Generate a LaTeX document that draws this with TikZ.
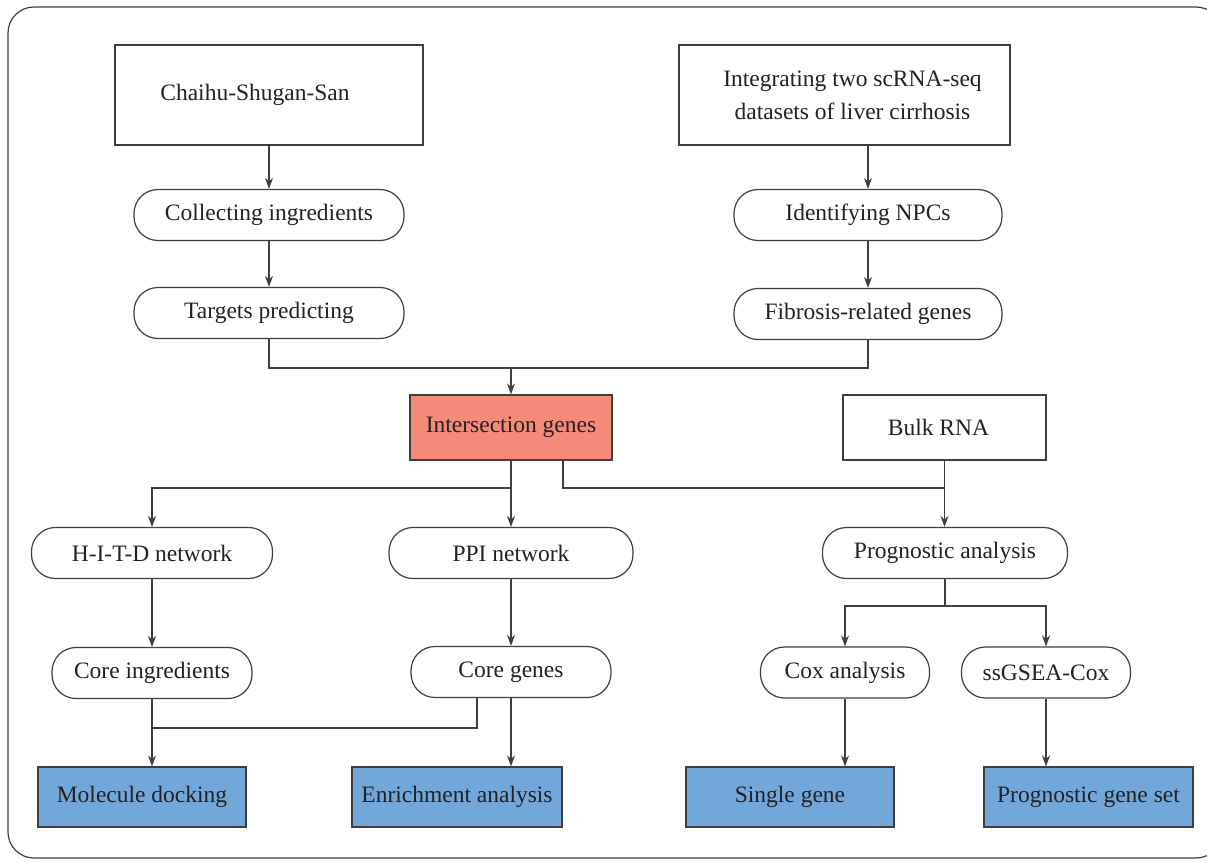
\documentclass[tikz,border=0pt]{standalone}
\usepackage{fontspec}
\setmainfont{Liberation Serif}
\usetikzlibrary{arrows.meta}
\definecolor{linec}{HTML}{3F3F3F}
\definecolor{txtc}{HTML}{222222}
\definecolor{salmon}{HTML}{F58A78}
\definecolor{bluef}{HTML}{72A7DA}
\begin{document}
\begin{tikzpicture}[x=1pt,y=-1pt,
  every node/.style={font=\fontsize{23.5}{33}\selectfont, text=txtc, inner sep=0pt, align=center},
  rectbox/.style={draw=linec, line width=1.2pt, fill=white},
  pill/.style={draw=linec, line width=1.2pt, fill=white, rounded corners=24pt, minimum height=51pt},
  redbox/.style={draw=linec, line width=1.2pt, fill=salmon},
  bluebox/.style={draw=linec, line width=1.2pt, fill=bluef, minimum width=208pt, minimum height=60pt},
  conn/.style={draw=linec, line width=1.2pt},
  arr/.style={conn, -{Stealth[length=11pt,width=8pt]}}]
\useasboundingbox (0,0) rectangle (1207,862);
\draw[linec, line width=1.2pt, rounded corners=26pt] (8,7) rectangle (1222,858);

\node[rectbox, minimum width=308pt, minimum height=100pt] (chai) at (269,95) {\hspace*{-28pt}Chaihu-Shugan-San};
\node[rectbox, minimum width=331pt, minimum height=100pt] (integ) at (844.5,95) {\hspace*{16pt}Integrating two scRNA-seq\\\hspace*{16pt}datasets of liver cirrhosis};
\node[pill, minimum width=270pt] (collect) at (269,215) {Collecting ingredients};
\node[pill, minimum width=270pt] (target) at (269,313) {Targets predicting};
\node[pill, minimum width=268pt] (ident) at (868,215) {Identifying NPCs};
\node[pill, minimum width=268pt] (fibro) at (868,314) {Fibrosis-related genes};
\node[redbox, minimum width=202pt, minimum height=65pt] (inter) at (511,427.5) {Intersection genes};
\node[rectbox, minimum width=203pt, minimum height=65pt] (bulk) at (944.5,427.5) {\hspace*{-12pt}Bulk RNA};
\node[pill, minimum width=241pt] (hitd) at (152,553) {H-I-T-D network};
\node[pill, minimum width=244pt] (ppi) at (511,553) {PPI network};
\node[pill, minimum width=245pt] (prog) at (945,553) {Prognostic analysis};
\node[pill, minimum width=200pt] (coreing) at (152,673) {Core ingredients};
\node[pill, minimum width=200pt] (coregenes) at (511,672) {Core genes};
\node[pill, minimum width=169pt] (cox) at (845,672.5) {Cox analysis};
\node[pill, minimum width=169pt] (ssg) at (1046,672.5) {ssGSEA-Cox};
\node[bluebox] (mol) at (142,797) {Molecule docking};
\node[bluebox, minimum width=210pt] (enrich) at (457,797) {Enrichment analysis};
\node[bluebox] (single) at (790,797) {Single gene};
\node[bluebox, minimum width=209pt] (pgs) at (1088.5,797) {Prognostic gene set};

\draw[arr] (chai) -- (collect);
\draw[arr] (collect) -- (target);
\draw[arr] (integ.south -| ident) -- (ident);
\draw[arr] (ident) -- (fibro);
\coordinate (j1) at (511,368);
\draw[conn] (target.south) |- (j1) -| (fibro.south);
\draw[arr] (j1) -- (inter);

\coordinate (j2) at (511,488);
\draw[arr] (inter) -- (ppi);
\draw[arr] (j2) -| (hitd.north);
\coordinate (iR) at ([xshift=52pt]inter.south);
\coordinate (j3) at (944.5,488);
\draw[conn] (iR) |- (j3);
\draw[arr] (bulk.south) -- (bulk.south |- prog.north);

\draw[arr] (hitd) -- (coreing);
\draw[arr] (ppi) -- (coregenes);
\draw[arr] (coreing.south) -- (coreing.south |- mol.north);
\coordinate (j4) at (152,728);
\draw[conn] ([xshift=-34pt]coregenes.south) |- (j4);
\draw[arr] (coregenes.south) -- (coregenes.south |- enrich.north);

\coordinate (j5) at (945,606);
\draw[conn] (prog) -- (j5);
\draw[arr] (j5) -| (cox.north);
\draw[arr] (j5) -| (ssg.north);
\draw[arr] (cox.south) -- (cox.south |- single.north);
\draw[arr] (ssg.south) -- (ssg.south |- pgs.north);
\end{tikzpicture}
\end{document}
